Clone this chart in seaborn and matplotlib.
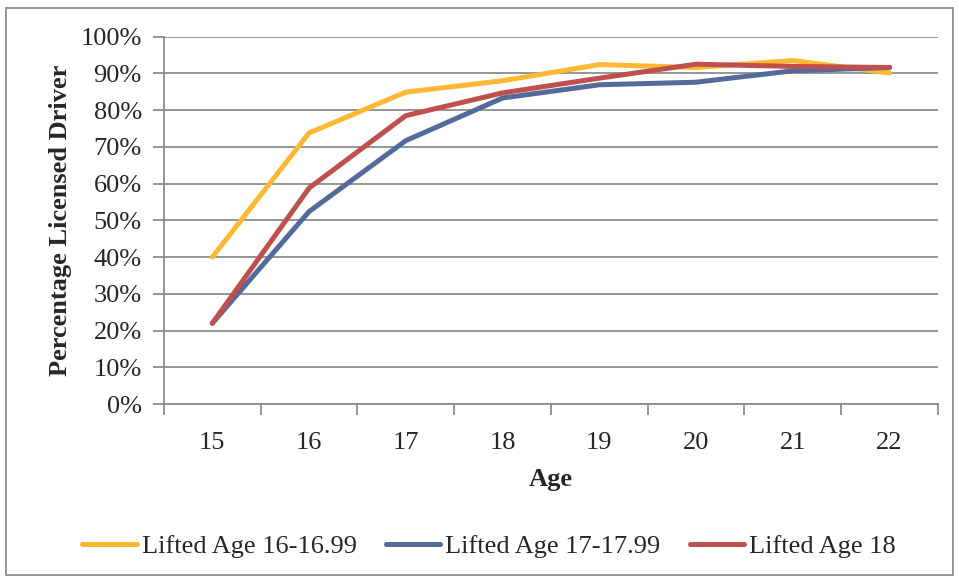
import numpy as np
import pandas as pd
import matplotlib
matplotlib.use("Agg")
import matplotlib.pyplot as plt
import seaborn as sns
from matplotlib.patches import Rectangle
from matplotlib.ticker import FixedLocator, FuncFormatter

ages = [15, 16, 17, 18, 19, 20, 21, 22]
lifted_16 = [40.0, 73.8, 84.9, 88.0, 92.4, 91.6, 93.5, 90.1]
lifted_17 = [22.0, 52.4, 71.7, 83.3, 86.9, 87.6, 90.7, 91.6]
lifted_18 = [22.0, 58.8, 78.5, 84.7, 88.7, 92.5, 91.9, 91.6]
series_names = ["Lifted Age 16-16.99", "Lifted Age 17-17.99", "Lifted Age 18"]
colors = ["#FDB933", "#536A9A", "#C0504D"]

df = pd.DataFrame({
    "Age": ages * 3,
    "pct": lifted_16 + lifted_17 + lifted_18,
    "series": [series_names[0]] * 8 + [series_names[1]] * 8 + [series_names[2]] * 8,
})

sns.set_style("white")
plt.rcParams["font.family"] = ["Liberation Serif", "DejaVu Serif"]

fig = plt.figure(figsize=(9.59, 5.8), dpi=100)
ax = fig.add_axes([0.171, 0.3034, 0.807, 0.6334])

sns.lineplot(data=df, x="Age", y="pct", hue="series", palette=colors,
             linewidth=3.6, ax=ax, legend=True)
for ln in ax.get_lines():
    ln.set_solid_capstyle("round")

ax.set_xlim(14.5, 22.5)
ax.set_ylim(0, 100)
ax.yaxis.set_major_locator(FixedLocator(np.arange(0, 101, 10)))
ax.yaxis.set_major_formatter(FuncFormatter(lambda v, p: f"{int(v)}%"))
ax.grid(axis="y", color="#8C8C8C", linewidth=1.3)
ax.set_axisbelow(True)

# category axis: tick marks at boundaries, labels at centres
ax.set_xticks(ages)
ax.set_xticklabels([str(a) for a in ages])
ax.set_xticks(np.arange(14.5, 23, 1), minor=True)
ax.tick_params(axis="x", which="major", length=0, pad=20, labelsize=19)
ax.tick_params(axis="x", which="minor", length=8, width=1.3, color="#8C8C8C",
               direction="out", bottom=True)
ax.tick_params(axis="y", which="major", length=8, width=1.3, color="#8C8C8C",
               direction="out", left=True, pad=8, labelsize=19)

for s in ["top", "right"]:
    ax.spines[s].set_visible(False)
for s in ["left", "bottom"]:
    ax.spines[s].set_color("#8C8C8C")
    ax.spines[s].set_linewidth(1.3)

ax.set_xlabel("Age", fontsize=19, fontweight="bold", labelpad=10)
ax.set_ylabel("Percentage Licensed Driver", fontsize=19, fontweight="bold", labelpad=6)

handles, labels = ax.get_legend_handles_labels()
ax.get_legend().remove()
fig.legend(handles, labels, loc="center", bbox_to_anchor=(0.51, 0.058), ncol=3,
           frameon=False, fontsize=19, handlelength=2.05, handletextpad=0.2,
           columnspacing=1.1, borderpad=0)

fig.patches.append(Rectangle((0.006, 0.008), 0.988, 0.978, transform=fig.transFigure,
                             fill=False, edgecolor="#8C8C8C", linewidth=1.3))

fig.savefig("out.png", dpi=100)
